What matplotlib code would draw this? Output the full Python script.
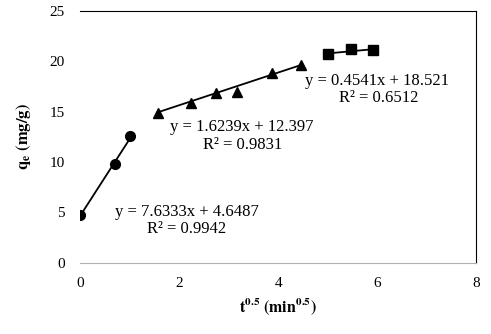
import numpy as np
import matplotlib
matplotlib.use("Agg")
import matplotlib.pyplot as plt

# stage 1 (circles), stage 2 (triangles), stage 3 (squares)
x1 = [0.0, 0.707, 1.0]
y1 = [4.8, 9.8, 12.6]
x2 = [1.58, 2.24, 2.74, 3.16, 3.87, 4.47]
y2 = [14.9, 15.9, 16.9, 17.0, 18.8, 19.6]
x3 = [5.0, 5.48, 5.92]
y3 = [20.7, 21.2, 21.1]

# fitted lines (slope, intercept, R2) as printed on the chart
fits = [(7.6333, 4.6487, 0.9942), (1.6239, 12.397, 0.9831), (0.4541, 18.521, 0.6512)]

x_ticks = [0, 2, 4, 6, 8]
y_ticks = [0, 5, 10, 15, 20, 25]

plt.rcParams["font.family"] = ["Liberation Serif", "DejaVu Serif"]
plt.rcParams["mathtext.fontset"] = "stix"

fig = plt.figure(figsize=(4.91, 3.34), dpi=100)
ax = fig.add_axes([0.163, 0.213, 0.807, 0.754])

series = [(x1, y1, "o", 7), (x2, y2, "^", 7), (x3, y3, "s", 6.5)]
for (xs, ys, mk, ms), (m, b, r2) in zip(series, fits):
    xs = np.array(xs)
    ax.plot(xs, ys, linestyle="none", marker=mk, color="black", markersize=ms)
    xl = np.array([xs.min(), xs.max()])
    ax.plot(xl, m * xl + b, color="black", linewidth=1.3)

# equation labels (pixel anchors, left edge)
labels = [
    (115, 212, 147, 229, 0),
    (170, 127, 203, 145, 1),
    (305, 81, 339, 98, 2),
]
for ex, ey, rx, ry, i in labels:
    m, b, r2 = fits[i]
    fig.text(ex / 491, 1 - ey / 334, f"y = {m:.4f}x + {b:g}", fontsize=12, va="center")
    fig.text(rx / 491, 1 - ry / 334, f"R² = {r2:.4f}", fontsize=12, va="center")

ax.set_xlim(0, 8)
ax.set_ylim(0, 25)
ax.set_xticks(x_ticks)
ax.set_yticks(y_ticks)
ax.tick_params(axis="y", length=0, labelsize=11, pad=11)
ax.tick_params(axis="x", length=0, labelsize=11, pad=10)

ax.spines["left"].set_visible(False)
ax.spines["bottom"].set_color("#b0b0b0")
ax.spines["top"].set_color("black")
ax.spines["right"].set_color("black")

ax.set_xlabel(r"$\mathbf{t^{0.5}\ (min^{0.5})}$", fontsize=11.5, labelpad=5)
ax.set_ylabel(r"$\mathbf{q_e\ (mg/g)}$", fontsize=12, labelpad=12)

fig.savefig("out.png", dpi=100)
